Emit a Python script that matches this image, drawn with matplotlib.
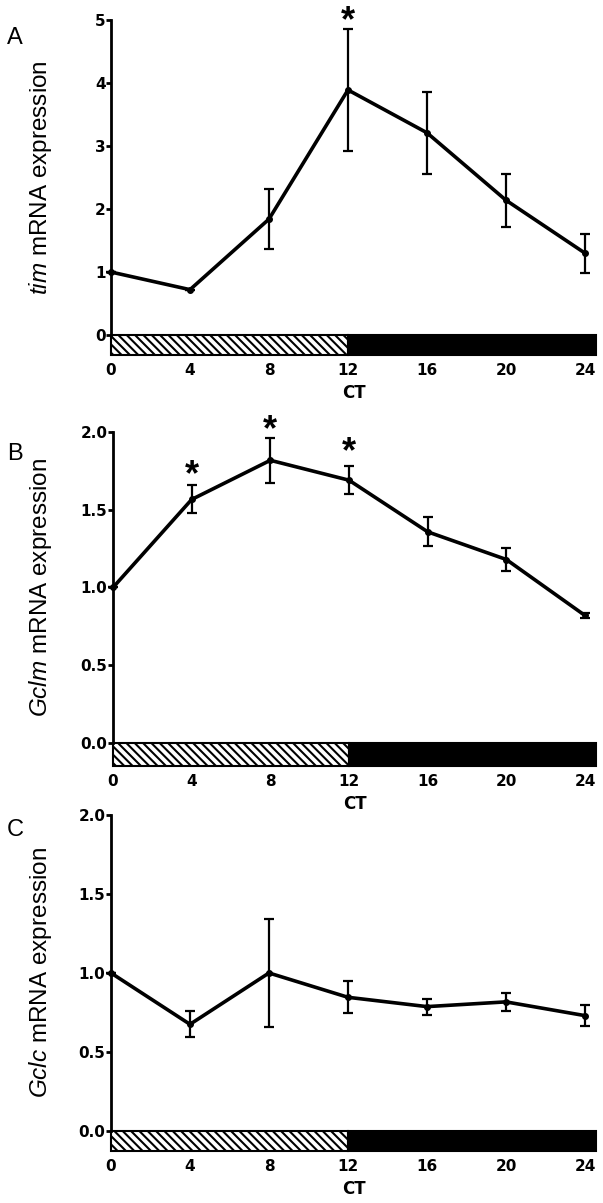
import numpy as np
import matplotlib.pyplot as plt

plt.rcParams['mathtext.fontset'] = 'custom'
plt.rcParams['mathtext.it'] = 'Liberation Sans:italic'
plt.rcParams['mathtext.rm'] = 'Liberation Sans'
plt.rcParams['hatch.linewidth'] = 1.5

# circadian time points
ct = [0, 4, 8, 12, 16, 20, 24]
ct_ticks = [0, 4, 8, 12, 16, 20, 24]

# panel A: tim
tim_mean = [1.0, 0.72, 1.84, 3.89, 3.21, 2.14, 1.30]
tim_err = [0, 0, 0.47, 0.97, 0.65, 0.42, 0.31]
tim_star_x = [12]
tim_star_y = [5.11]

# panel B: Gclm
gclm_mean = [1.0, 1.566, 1.818, 1.69, 1.358, 1.18, 0.82]
gclm_err = [0, 0.09, 0.145, 0.09, 0.094, 0.072, 0.015]
gclm_star_x = [4, 8, 12]
gclm_star_y = [1.77, 2.06, 1.92]

# panel C: Gclc
gclc_mean = [1.0, 0.675, 1.0, 0.846, 0.787, 0.817, 0.73]
gclc_err = [0, 0.083, 0.34, 0.10, 0.05, 0.055, 0.065]

# light/dark bar (subjective day hatched, night black)
ld_start = [0, 12]
ld_width = [12, 12.56]

panels = [
    dict(mean=tim_mean, err=tim_err, sx=tim_star_x, sy=tim_star_y, gene='tim',
         yticks=[0, 1, 2, 3, 4, 5], fmt='%d', ymax=5, ymin=-0.317,
         pos=[111, 20, 596, 355], letter='A', lpos=(15, 38)),
    dict(mean=gclm_mean, err=gclm_err, sx=gclm_star_x, sy=gclm_star_y, gene='Gclm',
         yticks=[0, 0.5, 1.0, 1.5, 2.0], fmt='%.1f', ymax=2.0, ymin=-0.148,
         pos=[113, 432, 596, 766], letter='B', lpos=(15, 454)),
    dict(mean=gclc_mean, err=gclc_err, sx=[], sy=[], gene='Gclc',
         yticks=[0, 0.5, 1.0, 1.5, 2.0], fmt='%.1f', ymax=2.0, ymin=-0.127,
         pos=[111, 815, 596, 1151], letter='C', lpos=(15, 830)),
]

W, H = 603, 1203
fig = plt.figure(figsize=(W / 100, H / 100), dpi=100)

for p in panels:
    l, t, r, b = p['pos']
    ax = fig.add_axes([l / W, 1 - b / H, (r - l) / W, (b - t) / H])
    ax.set_xlim(0, 24.56)
    ax.set_ylim(p['ymin'], p['ymax'])

    # LD bar
    ax.bar(ld_start, [p['ymin']] * 2, width=ld_width, bottom=0, align='edge',
           color=['white', 'black'], edgecolor='black', linewidth=1.5,
           hatch=['\\\\\\\\', None], clip_on=False, zorder=1)

    ax.errorbar(ct, p['mean'], yerr=p['err'], color='black', lw=2.6,
                marker='o', ms=4, elinewidth=1.6, capsize=3.5, capthick=1.6,
                clip_on=False, zorder=3)

    for x, y in zip(p['sx'], p['sy']):
        ax.annotate('*', (x, y), xytext=(0, -6), textcoords='offset points',
                    ha='center', va='center', fontsize=26, annotation_clip=False,
                    fontweight='bold', family='Liberation Sans')

    for s in ['top', 'right', 'bottom']:
        ax.spines[s].set_visible(False)
    ax.spines['left'].set_bounds(0, p['ymax'])
    ax.spines['left'].set_linewidth(2)

    ax.set_yticks(p['yticks'])
    ax.set_yticklabels([p['fmt'] % v for v in p['yticks']])
    ax.set_xticks(ct_ticks)
    ax.tick_params(axis='y', length=3.5, width=2, pad=0.5, labelsize=11)
    ax.tick_params(axis='x', length=0, pad=6, labelsize=11)
    for lab in ax.get_xticklabels() + ax.get_yticklabels():
        lab.set_fontweight('bold')
        lab.set_family('DejaVu Sans')

    ax.set_xlabel('CT', fontsize=12, fontweight='bold', labelpad=4)
    ax.set_ylabel(r'$\it{%s}$ mRNA expression' % p['gene'], fontsize=17.5,
                  family='Liberation Sans')
    ymid = (p['ymax'] / 2 - p['ymin']) / (p['ymax'] - p['ymin'])
    ax.yaxis.set_label_coords((54 - l) / (r - l), ymid)

    fig.text(p['lpos'][0] / W, 1 - p['lpos'][1] / H, p['letter'], fontsize=17,
             family='Liberation Sans', ha='center', va='center')

fig.savefig('out.png', dpi=100)
